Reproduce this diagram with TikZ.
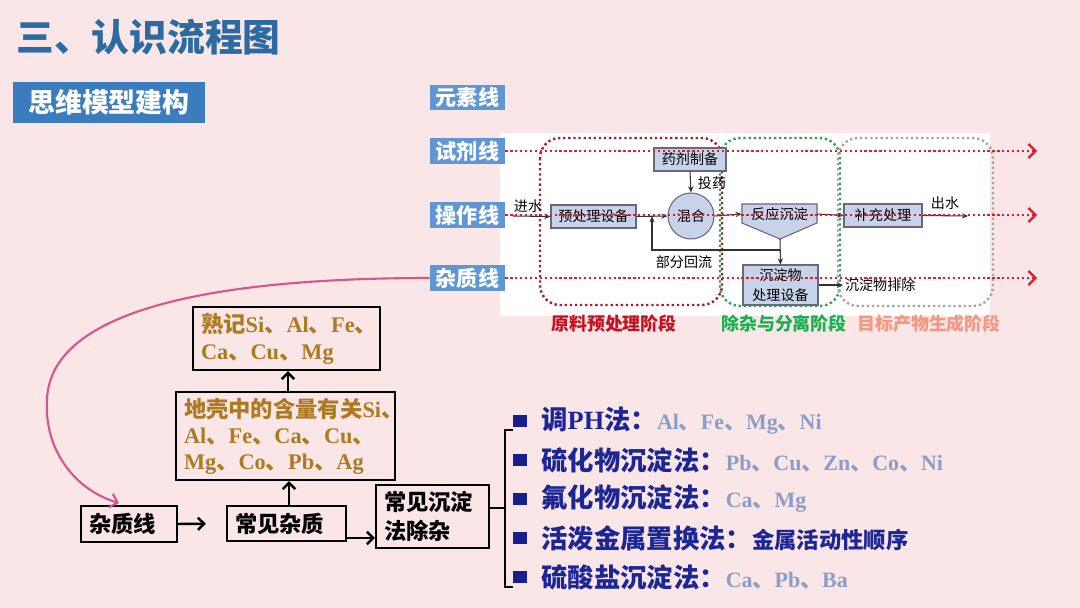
\documentclass[tikz,border=0pt]{standalone}
\usepackage{fontspec}
\setmainfont{Liberation Serif}
\newfontfamily\cjk{Noto Sans CJK SC}
\usetikzlibrary{arrows.meta,calc}
\definecolor{bgpink}{RGB}{250,229,231}
\definecolor{titleblue}{RGB}{44,106,162}
\definecolor{hdrblue}{RGB}{58,124,190}
\definecolor{labblue}{RGB}{95,150,212}
\definecolor{dotred}{RGB}{226,28,40}
\definecolor{stRed}{RGB}{168,28,44}
\definecolor{stGreen}{RGB}{46,160,84}
\definecolor{stGray}{RGB}{165,165,165}
\definecolor{lblRed}{RGB}{200,16,32}
\definecolor{lblGreen}{RGB}{24,178,80}
\definecolor{lblSalmon}{RGB}{242,152,128}
\definecolor{fblue}{RGB}{200,211,234}
\definecolor{fgray}{RGB}{100,105,125}
\definecolor{fline}{RGB}{50,50,50}
\definecolor{gold}{RGB}{172,122,32}
\definecolor{navy}{RGB}{24,30,140}
\definecolor{listblue}{RGB}{28,38,148}
\definecolor{ltblue}{RGB}{140,158,200}
\definecolor{curvepink}{RGB}{214,86,136}
\newcommand{\dn}{{\cjk 、}}
\begin{document}
\begin{tikzpicture}[x=0.02cm,y=-0.02cm,
  sidelab/.style={fill=labblue,text=white,font=\cjk\bfseries\fontsize{12}{14}\selectfont,minimum width=1.5cm,minimum height=0.52cm,inner sep=0},
  fbox/.style={draw=fgray,fill=fblue,line width=0.6pt,font=\cjk\fontsize{8}{10}\selectfont,inner sep=0,align=center},
  ftxt/.style={font=\cjk\fontsize{8}{10}\selectfont,inner sep=1pt},
  farr/.style={draw=fline,line width=0.6pt,-{Stealth[length=3.5pt,width=3pt]}},
  redln/.style={draw=dotred,line width=1.3pt,dash pattern=on 1.3pt off 1.5pt,-{Straight Barb[length=4pt,width=8pt]}},
  stagebox/.style={rounded corners=0.4cm,line width=1.4pt,dash pattern=on 1.3pt off 1.6pt},
  stagelab/.style={font=\cjk\bfseries\fontsize{10.2}{12}\selectfont,inner sep=0},
  lbox/.style={draw=black,line width=1.4pt,inner xsep=0.16cm,inner ysep=0,align=left,fill=bgpink},
  karr/.style={draw=black,line width=1.4pt,-{Straight Barb[length=3.5pt,width=7pt]}},
  bul/.style={fill=navy,minimum width=0.28cm,minimum height=0.26cm,inner sep=0},
  litem/.style={anchor=west,inner sep=0,text=listblue,font=\bfseries\fontsize{15}{18}\selectfont}
]
\useasboundingbox (0,0) rectangle (1080,608);
\fill[bgpink] (0,0) rectangle (1080,608);

% title and header
\node[anchor=west,inner sep=0,text=titleblue,font=\cjk\bfseries\fontsize{21.5}{24}\selectfont] (title) at (16,37) {三、认识流程图};
\node[fill=hdrblue,text=white,minimum width=3.84cm,minimum height=0.82cm,inner sep=0,font=\cjk\bfseries\fontsize{15.3}{18}\selectfont] (hdr) at (109,102.5) {思维模型建构};

% flowchart panel
\fill[white] (500,133) rectangle (990,316);

% stage boxes
\draw[stagebox,draw=stRed] (540,138) rectangle (722,305);
\draw[stagebox,draw=stGreen] (720,138) rectangle (840,306);
\draw[stagebox,draw=stGray] (838,138) rectangle (993,306);
\node[stagelab,text=lblRed] (s1) at (614,324) {原料预处理阶段};
\node[stagelab,text=lblGreen] (s2) at (784,324) {除杂与分离阶段};
\node[stagelab,text=lblSalmon] (s3) at (929,324) {目标产物生成阶段};

% flowchart nodes
\node[fbox,minimum width=1.44cm,minimum height=0.46cm] (yj) at (690,159.5) {药剂制备};
\node[fbox,minimum width=1.7cm,minimum height=0.46cm] (ycl) at (593.5,216.5) {预处理设备};
\node[fbox,circle,minimum size=0.92cm] (hh) at (691,216) {混合};
\draw[draw=fgray,fill=fblue,line width=0.6pt] (742,204) -- (817,204) -- (817,223) -- (780,239) -- (742,223) -- cycle;
\node[ftxt,minimum width=1.5cm,inner sep=0] (fy) at (779.5,214) {反应沉淀};
\coordinate (fyb) at (780,239);
\node[fbox,minimum width=1.56cm,minimum height=0.46cm] (bc) at (883,215.5) {补充处理};
\node[fbox,minimum width=1.5cm,minimum height=0.8cm,font=\cjk\fontsize{8}{11}\selectfont] (cd) at (780.5,285) {沉淀物\\处理设备};
\node[ftxt] (tou) at (712,183) {投药};
\node[ftxt] (jin) at (528,206) {进水};
\node[ftxt] (chu) at (945,203) {出水};
\node[ftxt] (hl) at (684,262) {部分回流};
\node[ftxt,anchor=west] (pc) at (843,285) {沉淀物排除};
\coordinate (jin0) at (513,216);
\coordinate (chu1) at (968,216);
\coordinate (rj) at (780,250);

\draw[farr] (jin0) -- (ycl.west);
\draw[farr] (ycl.east) -- (hh.west);
\draw[farr] (yj.south) -- (hh.north);
\draw[farr] (hh.east) -- (fy.west);
\draw[farr] (fy.east) -- (bc.west);
\draw[farr] (bc.east) -- (chu1);
\draw[farr] (fyb) -- (cd.north);
\draw[farr] (rj) -| ($(ycl.east)!0.5!(hh.west)$);
\draw[farr] (cd.east) -- (pc.west);

% side labels and red dotted lines
\node[sidelab] (ys) at (467.5,97.5) {元素线};
\node[sidelab] (sj) at (467.5,151) {试剂线};
\node[sidelab] (cz) at (467.5,215) {操作线};
\node[sidelab] (zl) at (467.5,278) {杂质线};
\coordinate (rEnd) at (1037,0);
\draw[redln] (sj.east) -- (sj.east -| rEnd);
\draw[redln] (cz.east) -- (cz.east -| rEnd);
\draw[redln] (zl.east) -- (zl.east -| rEnd);

% left diagram
\node[lbox,text width=3.42cm,minimum height=1.26cm,text=gold,font=\bfseries\fontsize{12.7}{15.3}\selectfont] (sjb) at (286.5,338.5) {{\cjk 熟记}Si\dn Al\dn Fe\dn\\Ca\dn Cu\dn Mg};
\node[lbox,text width=4.06cm,minimum height=1.76cm,text=gold,font=\bfseries\fontsize{12.7}{14.7}\selectfont] (dq) at (285.5,436) {{\cjk 地壳中的含量有关}Si\dn\\Al\dn Fe\dn Ca\dn Cu\dn\\Mg\dn Co\dn Pb\dn Ag};
\node[lbox,text width=1.6cm,minimum height=0.72cm,font=\cjk\bfseries\fontsize{12.7}{15}\selectfont] (zb) at (129,524) {杂质线};
\node[lbox,text width=2.06cm,minimum height=0.7cm,font=\cjk\bfseries\fontsize{12.7}{15}\selectfont] (cj) at (286.5,523.5) {常见杂质};
\node[lbox,text width=1.94cm,minimum height=1.26cm,font=\cjk\bfseries\fontsize{12.7}{16.4}\selectfont] (cdb) at (432.5,516.5) {常见沉淀\\法除杂};

\coordinate (cvEnd) at (119,503);
\draw[draw=curvepink,line width=1.2pt,-{Straight Barb[length=4pt,width=8pt]}] (zl.west) .. controls (250,278) and (50,300) .. (47,400) .. controls (44,450) and (75,490) .. (cvEnd);

\draw[karr,shorten >=20*0.02cm] (zb.east) -- (cj.west);
\draw[karr] (cj.north -| 289,0) -- (dq.south -| 289,0);
\draw[karr] (dq.north -| 288,0) -- (sjb.south -| 288,0);
\coordinate (yb) at (0,538);
\draw[karr] (cj.east |- yb) -- (cdb.west |- yb);

% bracket
\coordinate (brk) at (505,508);
\coordinate (brT) at (513,430);
\coordinate (brB) at (513,587);
\draw[line width=1.1pt] (cdb.east |- brk) -- (brk);
\draw[line width=1.1pt] (brT) -- (brT -| brk) -- (brB -| brk) -- (brB);

% list
\node[bul] (b1) at (520,421) {};
\node[bul] (b2) at (520,460) {};
\node[bul] (b3) at (520,499) {};
\node[bul] (b4) at (520,538) {};
\node[bul] (b5) at (520,577) {};
\node[litem] (l1) at (541,421) {{\cjk 调}PH{\cjk 法：}{\color{ltblue}\fontsize{12.5}{14}\selectfont Al\dn Fe\dn Mg\dn Ni}};
\node[litem] (l2) at (541,460) {{\cjk 硫化物沉淀法：}{\color{ltblue}\fontsize{12.5}{14}\selectfont Pb\dn Cu\dn Zn\dn Co\dn Ni}};
\node[litem] (l3) at (541,499) {{\cjk 氟化物沉淀法：}{\color{ltblue}\fontsize{12.5}{14}\selectfont Ca\dn Mg}};
\node[litem] (l4) at (541,538) {{\cjk 活泼金属置换法：}{\cjk\fontsize{12.7}{14}\selectfont 金属活动性顺序}};
\node[litem] (l5) at (541,577) {{\cjk 硫酸盐沉淀法：}{\color{ltblue}\fontsize{12.5}{14}\selectfont Ca\dn Pb\dn Ba}};
\end{tikzpicture}
\end{document}
